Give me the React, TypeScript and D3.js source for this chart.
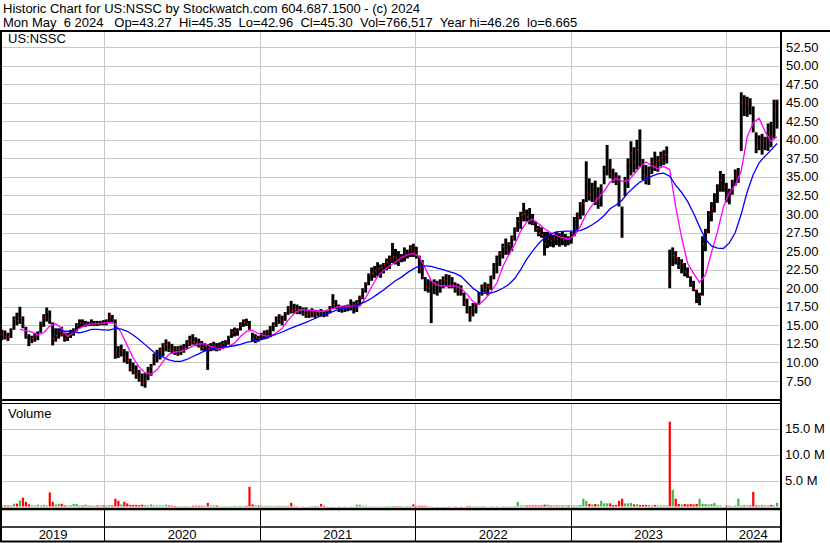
import React from 'react';
import * as d3 from 'd3';

// Weekly high / low / close (US:NSSC), weeks starting 2019-05-06
const HI = [
14.4,14.3,14.0,14.6,16.2,16.7,17.5,16.2,14.8,13.8,
13.6,14.0,14.2,15.5,16.5,17.4,17.0,15.4,14.6,14.6,
14.8,14.0,14.0,14.4,14.6,15.3,15.8,15.8,15.6,15.5,
15.8,15.6,15.6,15.6,15.7,15.8,16.7,16.4,15.8,12.2,
12.4,11.8,11.5,10.5,10.0,9.6,9.0,8.5,8.6,9.4,
9.8,11.2,11.7,12.0,12.6,13.1,12.8,12.5,12.2,12.2,
12.3,12.5,13.0,13.6,13.8,13.4,13.2,12.9,12.6,12.5,
12.6,12.8,12.6,12.7,12.9,13.0,13.6,14.5,14.7,14.6,
15.4,15.8,15.9,15.6,14.0,13.8,13.6,14.0,14.3,14.4,
14.9,15.4,16.2,16.5,16.3,16.8,17.6,18.3,17.9,17.8,
17.6,17.4,17.4,17.0,17.3,17.1,17.0,17.2,17.0,17.1,
17.6,19.2,18.4,17.8,17.6,17.7,17.8,18.5,18.2,18.4,
19.0,20.0,20.8,22.0,22.8,23.0,23.5,23.2,23.4,24.0,
24.4,26.1,25.3,25.0,24.6,25.5,25.2,25.8,26.0,25.6,
24.4,23.8,21.5,21.2,21.0,21.2,21.0,21.2,21.6,21.9,
21.8,21.5,20.8,20.6,20.4,19.4,18.6,17.6,18.0,18.0,
19.5,20.5,20.8,20.6,21.7,23.4,24.4,25.0,26.0,26.7,
26.2,27.1,28.2,29.6,30.3,31.5,30.6,30.8,30.0,29.0,
28.4,28.2,27.6,27.6,27.4,27.2,27.6,27.4,27.6,27.3,
27.0,27.6,29.6,30.2,31.6,32.0,37.1,34.8,34.2,34.5,
33.6,34.0,36.5,39.3,37.4,36.1,35.6,35.2,31.0,35.0,
37.5,39.8,39.0,40.0,41.4,37.4,36.6,36.4,37.6,38.4,
37.8,38.4,38.6,39.1,25.2,25.5,25.0,24.2,23.9,23.4,
22.8,21.6,21.0,19.8,19.4,27.0,28.0,30.4,31.6,32.8,
34.0,35.8,35.4,34.2,33.4,34.6,36.0,36.2,46.4,46.0,
45.8,45.6,44.5,41.0,40.6,40.8,40.4,42.2,42.4,45.4,
45.4];

const LO = [
13.0,13.1,12.9,13.3,14.4,15.0,15.2,14.6,13.2,12.2,
12.6,12.8,13.0,14.0,14.8,15.5,15.2,12.3,12.8,13.2,
13.5,12.8,12.9,13.3,13.6,14.2,14.6,14.8,14.8,14.9,
14.9,14.9,14.9,15.0,15.0,15.0,15.3,15.4,10.5,10.6,
10.8,10.0,9.8,8.8,8.4,7.8,7.4,6.8,6.6,7.6,
8.2,9.6,10.0,10.4,10.8,11.5,11.4,11.2,11.0,10.9,
11.0,11.3,11.8,12.2,12.4,12.2,12.0,11.6,11.5,9.0,
11.5,11.6,11.5,11.6,11.8,12.0,12.4,13.3,13.5,13.6,
14.3,14.8,14.9,14.4,12.8,12.6,12.8,13.0,13.1,13.2,
13.4,14.2,14.8,15.2,15.0,15.6,16.4,16.6,16.6,16.5,
16.5,16.3,16.0,16.0,16.1,16.0,16.2,16.2,16.1,16.2,
16.6,17.2,17.2,16.8,16.7,16.8,16.9,17.0,16.6,16.8,
17.6,18.5,19.4,20.4,21.0,21.4,21.6,21.4,22.0,22.4,
22.6,23.4,23.2,23.0,23.5,23.6,24.0,24.2,24.2,24.0,
22.0,21.2,19.6,19.4,15.3,19.2,19.0,19.4,20.0,20.2,
20.0,20.0,19.4,19.0,19.0,17.6,16.6,15.5,16.2,16.6,
17.8,19.0,19.4,19.0,19.8,21.2,22.0,23.0,24.0,24.5,
24.5,25.0,26.4,27.6,28.0,29.0,29.0,28.6,28.5,27.6,
27.0,26.8,24.4,25.4,25.6,25.5,25.8,25.6,25.8,25.6,
25.8,26.0,27.0,27.8,29.3,29.8,31.6,31.8,31.6,31.2,
30.7,31.0,34.0,35.2,34.8,34.2,33.9,31.0,26.8,32.4,
33.5,35.2,35.6,36.0,36.4,34.6,34.0,33.9,35.4,35.8,
35.7,36.4,36.6,36.8,20.0,23.0,23.2,22.6,22.0,21.6,
21.4,20.2,19.6,18.0,17.7,19.0,25.0,27.4,29.0,30.2,
31.5,33.0,33.0,31.6,31.3,32.6,33.8,34.2,38.5,43.2,
43.1,43.4,41.0,38.2,38.6,38.0,38.6,38.5,39.0,40.2,
41.5];

const CL = [
13.8,13.5,13.4,14.2,15.8,15.6,16.0,15.0,13.6,12.8,
13.2,13.6,13.8,15.2,16.0,16.8,15.8,13.2,13.6,14.2,
13.8,13.2,13.6,14.0,14.4,15.0,15.3,15.2,15.2,15.3,
15.2,15.4,15.2,15.4,15.3,15.6,16.2,15.8,11.4,11.2,
11.6,10.6,10.2,9.2,9.0,8.4,7.8,7.2,7.6,8.6,
9.4,10.6,11.0,11.6,12.2,12.4,11.8,11.6,11.4,11.8,
11.6,12.0,12.6,13.0,12.8,12.6,12.4,12.0,12.2,11.8,
12.0,12.2,12.0,12.3,12.6,12.8,13.4,14.0,14.2,14.4,
15.0,15.4,15.2,14.6,13.2,13.4,13.2,13.6,13.8,14.0,
14.6,15.0,15.8,15.8,15.6,16.6,17.2,17.0,17.2,17.0,
17.0,16.6,16.4,16.6,16.8,16.4,16.8,16.6,16.5,16.9,
17.4,17.8,17.4,17.2,17.2,17.4,17.6,17.4,17.8,18.0,
18.8,19.8,20.6,21.8,22.0,22.4,22.6,22.8,23.2,23.6,
24.0,24.2,24.0,23.6,24.2,24.8,25.0,25.4,24.8,24.6,
22.6,21.6,20.2,20.0,20.4,20.0,20.4,20.8,21.2,21.0,
20.6,20.4,19.8,19.6,19.4,18.0,17.0,16.4,17.4,17.8,
19.0,20.2,19.8,20.2,21.4,22.8,23.6,24.6,25.6,25.2,
25.8,26.8,27.8,29.0,29.8,30.0,29.6,29.2,28.8,28.0,
27.4,27.2,26.0,26.6,26.4,26.8,26.6,26.8,26.5,26.8,
26.6,27.4,29.2,29.6,31.2,31.4,33.0,32.6,33.6,32.0,
33.0,33.6,36.0,36.2,35.4,35.0,34.6,32.0,28.0,34.6,
37.0,38.2,37.0,38.6,36.8,35.2,35.0,35.8,37.0,36.4,
37.2,37.6,38.0,38.0,21.4,24.4,24.2,23.0,23.4,22.2,
22.0,20.6,20.0,18.6,19.0,26.0,27.6,29.8,30.8,32.2,
33.6,34.6,33.6,32.2,32.8,34.2,35.4,35.8,45.0,44.0,
44.8,43.8,41.6,39.0,40.0,38.6,39.8,41.0,40.4,44.0,
45.3];

// Typical daily volume of each week, millions of shares
const VOL = [
0.2,0.2,0.2,0.2,0.55,0.55,1.15,1.7,0.9,0.4,
0.2,0.2,0.35,0.2,0.3,0.2,2.7,0.9,0.4,0.55,
0.5,0.2,0.2,0.25,0.5,0.5,0.2,0.2,0.35,0.2,
0.15,0.15,0.2,0.2,0.2,0.2,0.25,0.2,1.5,1.1,
0.4,0.9,0.6,0.3,0.3,0.3,0.25,0.35,0.25,0.2,
0.4,0.2,0.2,0.2,0.2,0.35,0.2,0.15,0.1,0.1,
0.05,0.1,0.1,0.05,0.15,0.15,0.15,0.15,0.15,0.7,
0.2,0.2,0.2,0.1,0.05,0.1,0.05,0.1,0.15,0.1,
0.15,0.1,0.15,3.8,0.4,0.2,0.2,0.15,0.15,0.15,
0.15,0.1,0.15,0.15,0.1,0.15,0.15,0.7,0.15,0.05,
0,0.05,0,0.05,0.1,0.1,0.1,0.5,0.15,0.05,
0,0.05,0,0.05,0,0.05,0,0.05,0.05,0.35,
0.35,0.15,0.15,0.05,0.05,0.05,0.05,0.05,0.05,0.1,
0.1,0.1,0.1,0.1,0.1,0.05,0.1,0.1,0.4,0.1,
0.15,0.15,0.15,0.05,0.05,0,0.05,0,0.05,0,
0.05,0,0.05,0,0.05,0,0.1,0.1,0.05,0.1,
0.05,0.1,0.05,0,0.08,0.05,0.08,0,0.08,0.05,
0.08,0.05,0.1,0.9,0.2,0.2,0.2,0.2,0.2,0.2,
0.2,0.2,0.35,0.35,0.2,0.2,0.2,0.2,0.2,0.2,
0.2,0.2,0.2,0.2,0.3,1.5,1.1,0.5,0.4,0.5,
0.4,1.1,0.6,0.6,0.6,0.3,0.3,1.1,1.5,0.6,
0.6,0.7,0.4,0.4,0.3,0.3,0.3,0.3,0.2,0.3,
0.2,0.2,0.2,0.2,16.3,3.2,1.5,0.5,0.4,0.5,
0.4,0.5,0.4,0.5,1.5,0.5,0.5,0.4,0.5,0.7,
0.2,0.2,0,0.2,0.2,0.1,0.2,1.5,0.2,0.2,
0.2,0.2,2.8,0.2,0.2,0.2,0.2,0.2,0.3,0.2,
0.7];

// Short moving average (magenta), every 2 weeks from week 6
const MA_FAST_START = 6;
const MA_FAST = [
14.45,14.3,14.1,13.7,14.0,14.9,15.2,14.6,13.5,14.0,
14.6,15.0,15.2,15.2,15.3,15.4,15.2,14.0,12.3,10.6,
9.4,8.6,8.4,9.0,10.1,11.1,11.4,11.5,11.8,12.2,
12.5,12.5,12.2,11.8,11.9,12.1,12.6,13.5,14.2,14.3,
13.9,13.6,13.5,14.0,14.6,15.7,16.6,17.1,17.1,17.0,
16.9,16.9,17.1,17.4,17.6,17.6,17.6,17.6,18.7,20.2,
21.6,22.4,23.0,23.5,24.1,24.5,24.7,24.2,22.7,21.0,
20.4,20.3,20.3,20.3,20.0,19.2,18.2,17.8,18.5,19.5,
20.7,22.9,24.5,25.9,27.7,28.9,29.3,28.7,28.0,27.5,
27.1,26.8,26.6,27.1,28.3,30.0,31.2,32.1,33.1,34.3,
34.8,34.4,34.5,35.3,36.3,37.0,36.5,36.1,36.4,36.0,
31.0,26.8,23.4,22.0,20.8,21.8,24.8,27.6,30.9,32.9,
33.9,35.8,40.4,42.3,42.9,41.1,39.8,40.4];

// Long moving average (blue), every 2 weeks from week 18
const MA_SLOW_START = 18;
const MA_SLOW = [
14.2,14.2,14.2,14.1,14.0,14.2,14.45,14.45,14.4,14.35,
14.6,14.5,14.2,13.7,13.1,12.4,11.7,11.05,10.7,10.35,
10.15,10.15,10.4,10.8,11.15,11.55,11.8,12.0,12.1,12.15,
12.25,12.45,12.7,12.85,13.05,13.25,13.5,13.8,14.1,14.45,
14.8,15.1,15.4,15.75,16.1,16.4,16.7,17.0,17.25,17.4,
17.5,17.85,18.2,18.65,19.2,19.75,20.4,21.0,21.5,22.1,
22.6,23.0,23.0,22.95,22.7,22.5,22.25,22.0,21.6,20.8,
20.0,19.45,19.3,19.35,19.6,20.0,20.5,21.3,22.5,23.9,
25.0,26.0,26.8,27.3,27.6,27.65,27.7,27.7,27.75,28.1,
28.55,29.1,29.8,30.7,31.2,31.85,32.85,33.6,34.3,34.7,
35.1,35.4,35.5,35.1,33.9,32.9,31.7,30.1,28.3,26.6,
25.7,25.4,25.35,26.1,27.5,30.0,33.0,35.3,36.9,37.8,
38.6,39.5];

const PRICE_TICKS = [7.5,10,12.5,15,17.5,20,22.5,25,27.5,30,32.5,35,37.5,40,42.5,45,47.5,50,52.5];
const VOL_TICKS = [5,10,15];
const YEARS = [2019,2020,2021,2022,2023,2024];

const TITLE1 = 'Historic Chart for US:NSSC by Stockwatch.com 604.687.1500 - (c) 2024';
const TITLE2 = 'Mon May  6 2024   Op=43.27  Hi=45.35  Lo=42.96  Cl=45.30  Vol=766,517  Year hi=46.26  lo=6.665';

const FONT = '"Liberation Sans", Arial, sans-serif';
const GRID = '#c8c8c8';

export default function App() {
  const start = new Date(2019, 4, 6);
  const end = new Date(2024, 4, 6);
  const x = d3.scaleTime().domain([start, end]).range([2, 780]);
  const y = d3.scaleLinear().domain([7.5, 52.5]).range([381, 47]);
  const yv = d3.scaleLinear().domain([0, 15]).range([506.5, 428.5]);
  const wk = (i: number) => x(d3.timeDay.offset(start, 7 * i));

  const yearBounds = YEARS.slice(1).map((yr) => x(new Date(yr, 0, 1)));
  const edges = [2, ...yearBounds, 780];

  const fastLine = d3.line<number>()
    .x((_, i) => wk(MA_FAST_START + 2 * i))
    .y((d) => y(d));
  const slowLine = d3.line<number>()
    .x((_, i) => wk(MA_SLOW_START + 2 * i))
    .y((d) => y(d));

  return (
    <svg width={830} height={543} style={{ position: 'absolute', left: 0, top: 0, background: '#fff' }}
      fontFamily={FONT}>
      <rect x={0} y={0} width={830} height={543} fill="#fff" />
      {/* header */}
      <text x={3} y={13} fontSize={13} fill="#000" style={{ whiteSpace: 'pre' }}>{TITLE1}</text>
      <text x={3} y={27} fontSize={13} fill="#000" style={{ whiteSpace: 'pre' }}>{TITLE2}</text>

      {/* price gridlines */}
      {PRICE_TICKS.map((t) => (
        <line key={'pg' + t} x1={2} x2={780} y1={Math.round(y(t)) + 0.5} y2={Math.round(y(t)) + 0.5} stroke={GRID} strokeWidth={1} />
      ))}
      {yearBounds.map((b, i) => (
        <line key={'vg' + i} x1={Math.round(b) + 0.5} x2={Math.round(b) + 0.5} y1={32} y2={400} stroke={GRID} strokeWidth={1} />
      ))}
      {/* volume gridlines */}
      {VOL_TICKS.map((t) => (
        <line key={'vgl' + t} x1={2} x2={780} y1={Math.round(yv(t)) + 0.5} y2={Math.round(yv(t)) + 0.5} stroke={GRID} strokeWidth={1} />
      ))}
      {yearBounds.map((b, i) => (
        <line key={'vvg' + i} x1={Math.round(b) + 0.5} x2={Math.round(b) + 0.5} y1={404} y2={508} stroke={GRID} strokeWidth={1} />
      ))}

      {/* price bars: black high-low bars with small red close ticks */}
      <g>
        {HI.map((h, i) => (
          <line key={'b' + i} x1={wk(i)} x2={wk(i)} y1={y(h)} y2={y(LO[i])} stroke="#000" strokeWidth={2.9} />
        ))}
        {CL.map((c, i) => (
          <rect key={'c' + i} x={wk(i) + 0.4} y={y(c) - 0.8} width={1.1} height={1.6} fill="#ff0000" />
        ))}
      </g>

      {/* moving averages */}
      <path d={fastLine(MA_FAST) || ''} fill="none" stroke="#ff00ff" strokeWidth={1.3} />
      <path d={slowLine(MA_SLOW) || ''} fill="none" stroke="#0000ff" strokeWidth={1.3} />

      <text x={8} y={43} fontSize={13} fill="#000">US:NSSC</text>

      {/* volume bars */}
      {VOL.map((v, i) => v > 0 ? (
        <rect key={'v' + i} x={wk(i) - 1} y={yv(v)} width={2.2} height={Math.max(0, yv(0) - yv(v))}
          fill={i > 0 && CL[i] < CL[i - 1] ? '#ff0000' : '#4cb04c'} />
      ) : null)}
      <text x={8} y={418} fontSize={13} fill="#000">Volume</text>

      {/* frames */}
      <line x1={0} x2={830} y1={31} y2={31} stroke="#000" strokeWidth={2} />
      <line x1={1} x2={1} y1={31} y2={542} stroke="#000" strokeWidth={2} />
      <line x1={781} x2={781} y1={31} y2={542} stroke="#000" strokeWidth={2} />
      <line x1={0} x2={782} y1={400} y2={400} stroke="#000" strokeWidth={2} />
      <line x1={0} x2={782} y1={403.5} y2={403.5} stroke="#000" strokeWidth={1.2} />
      <line x1={0} x2={782} y1={509} y2={509} stroke="#000" strokeWidth={2.5} />
      <line x1={0} x2={782} y1={527} y2={527} stroke="#000" strokeWidth={1.5} />
      <line x1={0} x2={782} y1={541.5} y2={541.5} stroke="#000" strokeWidth={2} />
      {yearBounds.map((b, i) => (
        <line key={'ys' + i} x1={Math.round(b) + 0.5} x2={Math.round(b) + 0.5} y1={510} y2={541} stroke="#000" strokeWidth={1} />
      ))}

      {/* year labels */}
      {YEARS.map((yr, i) => (
        <text key={'yr' + yr} x={(edges[i] + edges[i + 1]) / 2} y={539} fontSize={13} textAnchor="middle" fill="#000">{yr}</text>
      ))}

      {/* right axis labels */}
      {PRICE_TICKS.map((t) => (
        <text key={'pl' + t} x={786} y={y(t) + 4.5} fontSize={13} fill="#000">{t.toFixed(2)}</text>
      ))}
      {VOL_TICKS.map((t) => (
        <text key={'vl' + t} x={785} y={yv(t) + 4.5} fontSize={13} fill="#000">{t.toFixed(1) + ' M'}</text>
      ))}
    </svg>
  );
}
